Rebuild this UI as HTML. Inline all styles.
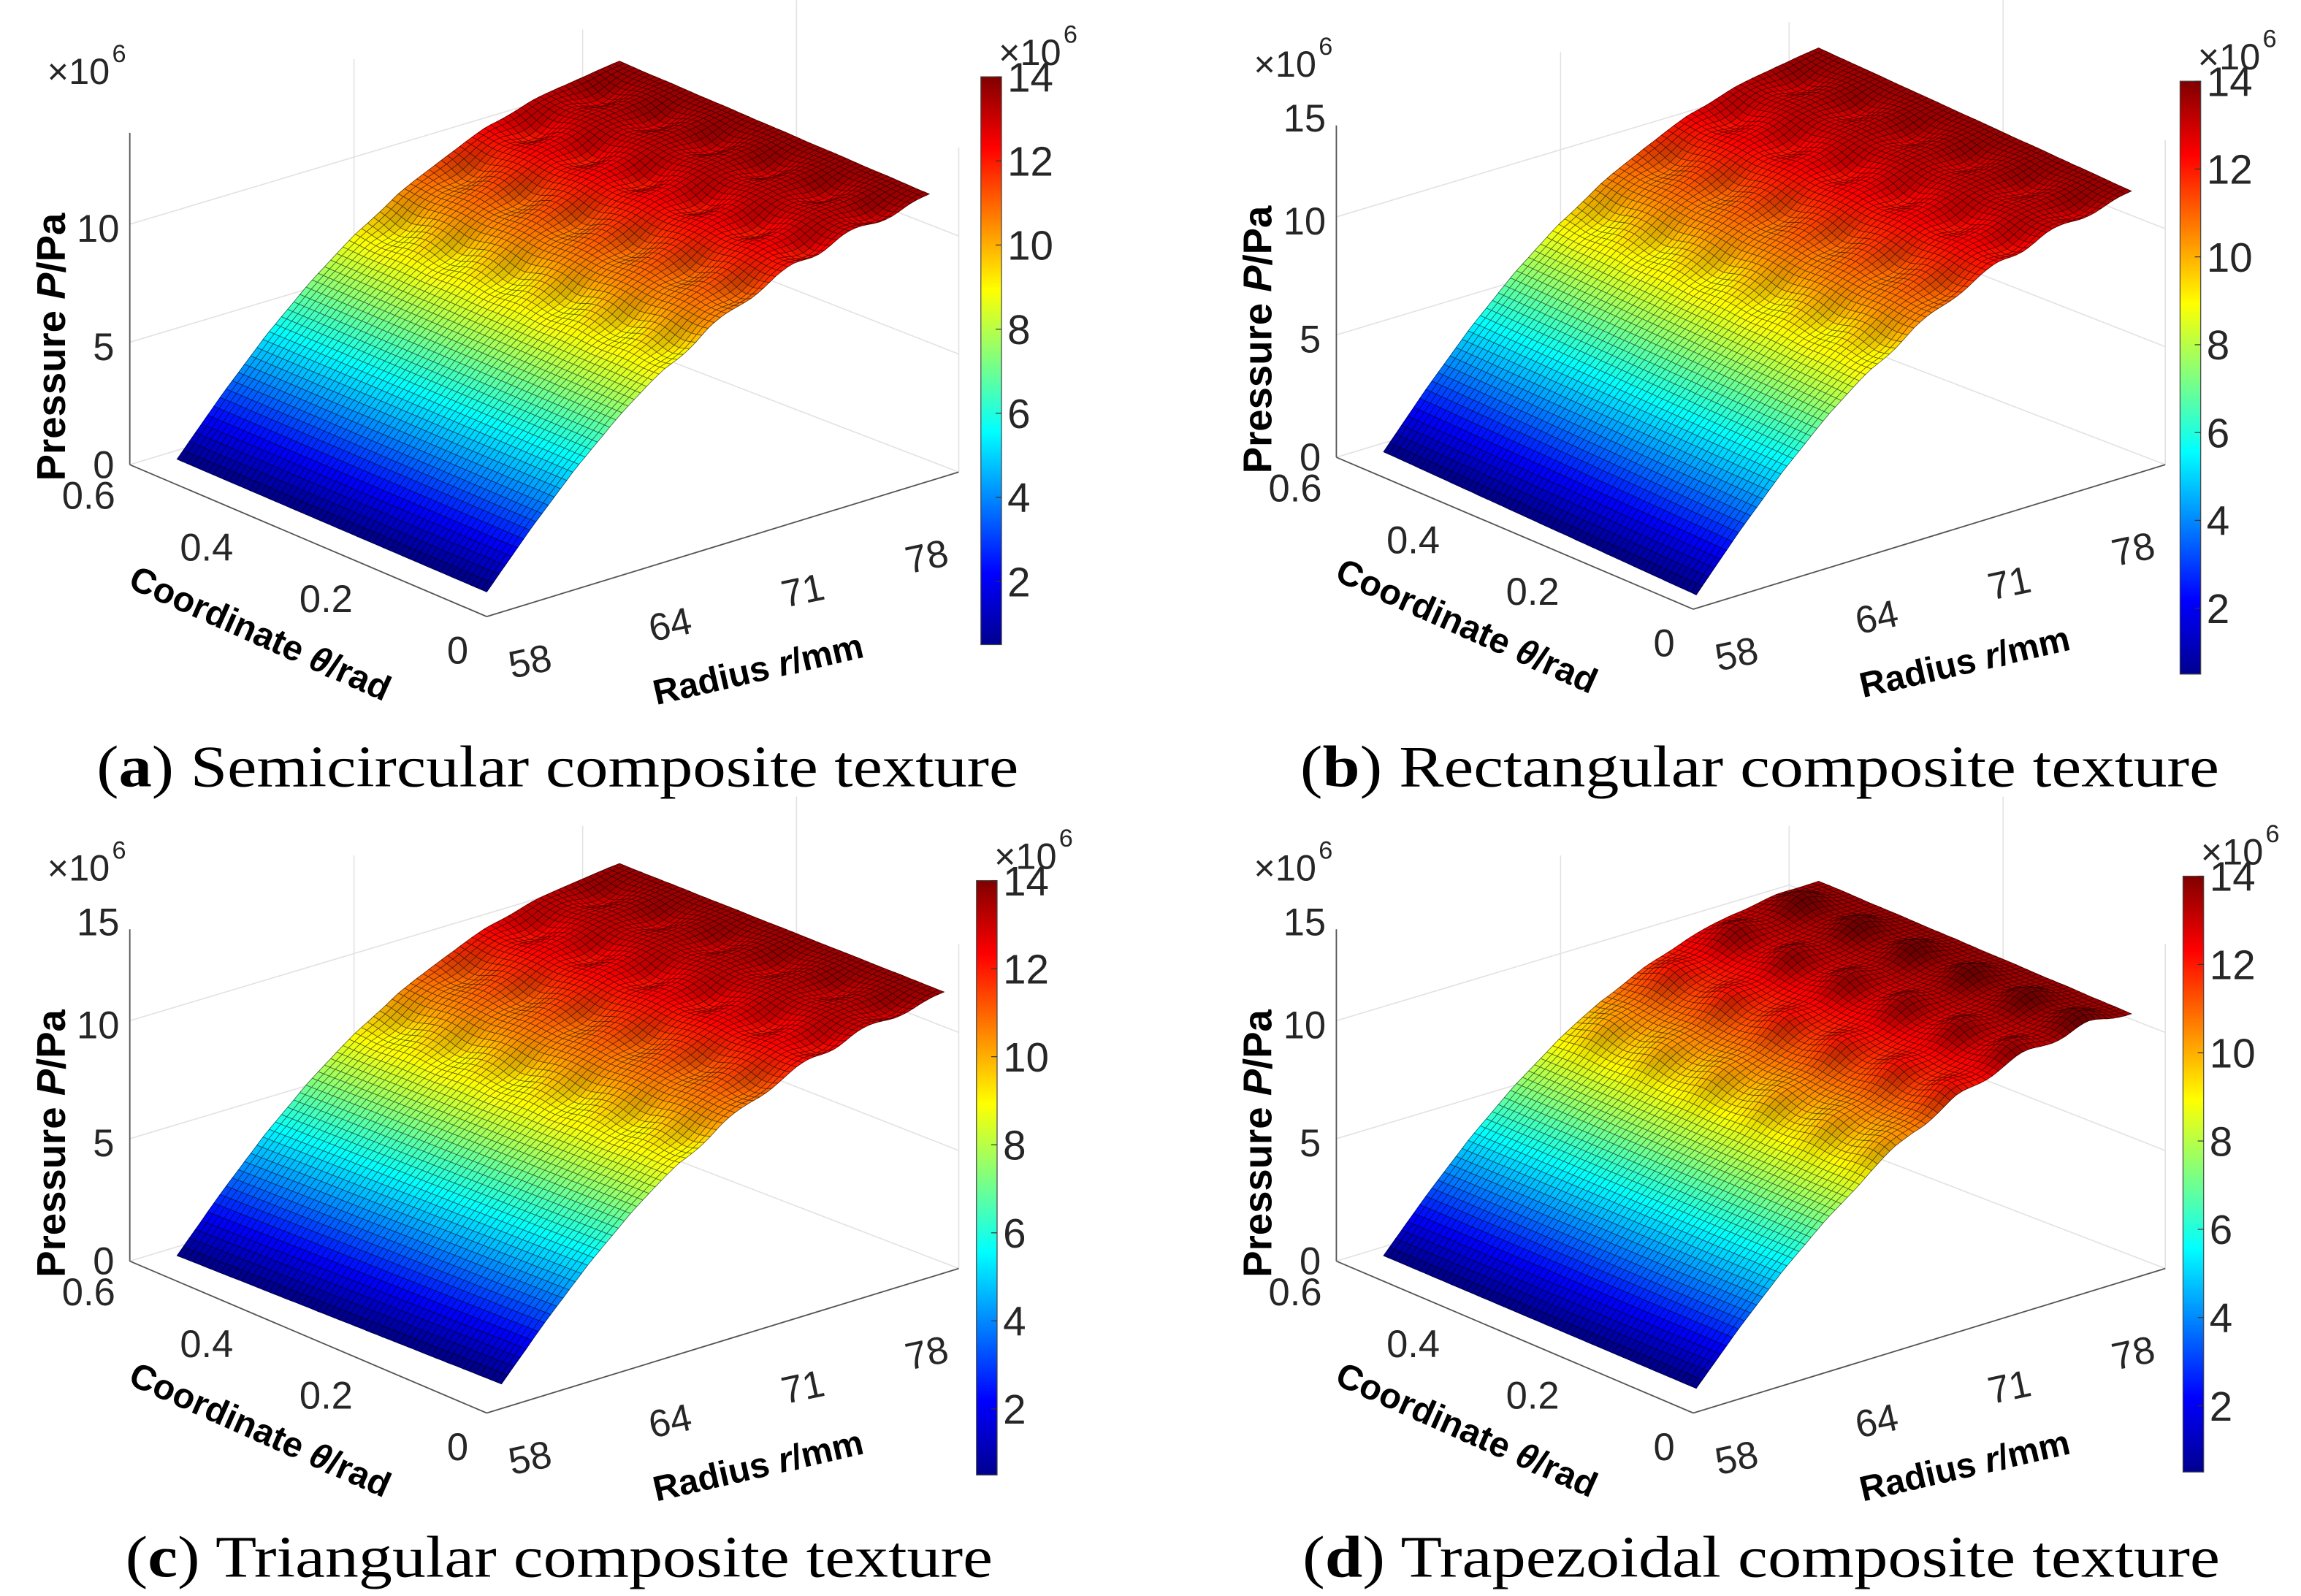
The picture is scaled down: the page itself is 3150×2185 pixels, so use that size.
<!DOCTYPE html>
<html><head><meta charset="utf-8"><style>
html,body{margin:0;padding:0;background:#fff;}
svg{display:block;}
text{font-family:"Liberation Sans",sans-serif;}
</style></head><body>
<svg id="fig" width="3150" height="2185" viewBox="0 0 1560 1082" xmlns="http://www.w3.org/2000/svg">
<defs>
<linearGradient id="jet" x1="0" y1="1" x2="0" y2="0">
<stop offset="0" stop-color="#00008f"/><stop offset="0.125" stop-color="#0000ff"/><stop offset="0.375" stop-color="#00ffff"/><stop offset="0.625" stop-color="#ffff00"/><stop offset="0.875" stop-color="#ff0000"/><stop offset="1" stop-color="#800000"/>
</linearGradient>
</defs>
</svg>
<script>
const NS='http://www.w3.org/2000/svg';
const svg=document.getElementById('fig');
const thetaTicks=['0.6','0.4','0.2','0'];
const radiusTicks=['58','64','71','78'];
const pressureTicks=['0','5','10','15'];
const colorbarTicks=[2,4,6,8,10,12,14];
const profile=[0.5,3.0,5.3,7.3,9.0,10.4,11.5,12.4,13.0,13.4,13.6];
const bumpAmp=[-0.7,-0.6,-0.6,0.7];
const bumpCols=[0.08,0.26,0.44,0.62,0.80,0.96];
const bumpRows=[0.45,0.6,0.75,0.9];
const captions=[['a','Semicircular composite texture'],['b','Rectangular composite texture'],['c','Triangular composite texture'],['d','Trapezoidal composite texture']];
const capW=[625,623,588,622];
const cmin=0.5,cmax=14;
const panels=[
 {O:[120,318],U:[210,90],V:[300,-93],dx:0,dy:0,cb:[665,52,437],cap:378,showTop:false},
 {O:[938,313],U:[212,97],V:[295,-97],dx:818,dy:-5,cb:[1478,55,457],cap:1193,showTop:true},
 {O:[120,858],U:[220,87],V:[300,-89],dx:0,dy:540,cb:[662,597,1000],cap:379,showTop:true},
 {O:[938,858],U:[212,90],V:[295,-77],dx:818,dy:540,cb:[1480,594,998],cap:1194,showTop:true}
];
const WZ=13.5;
function jet(t){t=Math.max(0,Math.min(1,t));
 const f=x=>Math.max(0,Math.min(1,x));
 return [f(1.5-Math.abs(4*t-3)),f(1.5-Math.abs(4*t-2)),f(1.5-Math.abs(4*t-1))];}
function interp(arr,v){const p=v*(arr.length-1);const i=Math.min(arr.length-2,Math.floor(p));const f=p-i;return arr[i]*(1-f)+arr[i+1]*f;}
function mk(tag,attrs,parent){const e=document.createElementNS(NS,tag);for(const k in attrs)e.setAttribute(k,attrs[k]);(parent||svg).appendChild(e);return e;}
function txt(s,x,y,size,parent,extra){const e=mk('text',Object.assign({x:x,y:y,'font-size':size,fill:'#262626'},extra||{}),parent);e.textContent=s;return e;}
panels.forEach((P,pi)=>{
 const g=mk('g',{});
 
 
 const dx=P.dx,dy=P.dy;
 const grid=mk('g',{stroke:'#e2e2e2','stroke-width':0.8,fill:'none'},g);
 
 
 [[88,90,88,315],[88,315,395,222],[395,222,395,20],[395,222,650,320],[88,152,395,60],[88,232,395,140],[650,320,650,100],[395,140,650,240],[395,60,650,160],[240,265,240,40],[540,175,540,0]].forEach(l=>{
  mk('line',{x1:l[0]+dx,y1:l[1]+dy,x2:l[2]+dx,y2:l[3]+dy},grid);});
 const ax=mk('g',{stroke:'#555','stroke-width':0.9,fill:'none'},g);
 
 
 mk('line',{x1:88+dx,y1:315+dy,x2:330+dx,y2:418+dy},ax);
 mk('line',{x1:330+dx,y1:418+dy,x2:650+dx,y2:320+dy},ax);
 mk('line',{x1:88+dx,y1:315+dy,x2:88+dx,y2:90+dy},ax);
 const N=60,M=72;
 const pts=[],val=[];
 for(let i=0;i<=N;i++){pts.push([]);val.push([]);
  for(let j=0;j<=M;j++){const u=i/N,v=j/M;
   let p=interp(profile,v);
   let t=0;
   bumpCols.forEach(c=>bumpRows.forEach(r=>{const du=(u-c)/0.055,dv=(v-r)/0.05;t+=Math.exp(-(du*du+dv*dv));}));
   p+=bumpAmp[pi]*t*Math.min(1,v*1.4);
   val[i].push(p);
   pts[i].push([P.O[0]+u*P.U[0]+v*P.V[0],P.O[1]+u*P.U[1]+v*P.V[1]-p*WZ]);
  }}
 const cells=[];
 for(let i=0;i<N;i++)for(let j=0;j<M;j++)cells.push([i,j]);
 cells.sort((a,b)=>(a[0]/N-a[1]/M)-(b[0]/N-b[1]/M));
 const sg=mk('g',{'stroke-width':0.4},g);
 
 
 cells.forEach(([i,j])=>{
  const a=pts[i][j],b=pts[i+1][j],c=pts[i+1][j+1],d=pts[i][j+1];
  const pv=(val[i][j]+val[i+1][j]+val[i+1][j+1]+val[i][j+1])/4;
  const dPdu=((val[i+1][j]+val[i+1][j+1])-(val[i][j]+val[i][j+1]))/2*N;
  const dPdv=((val[i][j+1]+val[i+1][j+1])-(val[i][j]+val[i+1][j]))/2*M;
  const slope=(interp(profile,Math.min(1,(j+1)/M))-interp(profile,j/M))*M;
  let sh=1+0.02*(dPdu)-0.012*(dPdv-slope);
  sh=Math.max(0.5,Math.min(1.1,sh));
  const col=jet((pv-cmin)/(cmax-cmin)).map(x=>Math.round(Math.min(255,x*255*sh)));
  const fill='rgb('+col.join(',')+')';
  const ed='rgb('+col.map(x=>Math.round(x*0.4)).join(',')+')';
  mk('polygon',{points:[a,b,c,d].map(q=>q[0].toFixed(1)+','+q[1].toFixed(1)).join(' '),fill:fill,stroke:ed},sg);
 });
 const tg=mk('g',{},g);
 
 
 const thPos=[[42,345],[122,380],[203,415],[303,450]];
 thetaTicks.forEach((s,k)=>txt(s,thPos[k][0]+dx,thPos[k][1]+dy,26,tg));
 const rPos=[[347,460],[442,435],[532,412],[616,389]];
 radiusTicks.forEach((s,k)=>txt(s,rPos[k][0]+dx,rPos[k][1]+dy,26,tg,{transform:'rotate(-12 '+(rPos[k][0]+dx)+' '+(rPos[k][1]+dy)+')'}));
 const zPos=[[63,324],[63,244],[52,164],[52,94]];
 pressureTicks.forEach((s,k)=>{if(k===3&&!P.showTop)return;txt(s,zPos[k][0]+dx,zPos[k][1]+dy,26,tg);});
 txt('×10',32+dx,57+dy,25,tg);txt('6',76+dx,42+dy,17,tg);
 const t1=txt('Pressure ',0,0,27,g,{'font-weight':'bold',fill:'#000',transform:'translate('+(44+dx)+','+(326+dy)+') rotate(-90)'});
 const it=mk('tspan',{'font-style':'italic'},t1);it.textContent='P';
 const t1b=mk('tspan',{},t1);t1b.textContent='/Pa';
 
 const t2=txt('Coordinate ',0,0,24,g,{'font-weight':'bold',fill:'#000',transform:'translate('+(86+dx)+','+(398+dy)+') rotate(24)'});
 const i2=mk('tspan',{'font-style':'italic'},t2);i2.textContent='θ';
 const t2b=mk('tspan',{},t2);t2b.textContent='/rad';
 
 const t3=txt('Radius ',0,0,24,g,{'font-weight':'bold',fill:'#000',transform:'translate('+(445+dx)+','+(478+dy)+') rotate(-13)'});
 const i3=mk('tspan',{'font-style':'italic'},t3);i3.textContent='r';
 const t3b=mk('tspan',{},t3);t3b.textContent='/mm';
 
 const [cx,cy0,cy1]=P.cb;
 const cbg=mk('g',{},g);
 
 
 mk('rect',{x:cx,y:cy0,width:14,height:cy1-cy0,fill:'url(#jet)',stroke:'#444','stroke-width':0.6},cbg);
 colorbarTicks.forEach(v=>{const y=cy1-(v-cmin)/(cmax-cmin)*(cy1-cy0);
  mk('line',{x1:cx+10,y1:y,x2:cx+14,y2:y,stroke:'#333','stroke-width':0.6},cbg);
  txt(String(v),cx+18,y+10,28,cbg);});
 txt('×10',cx+12,cy0-8,25,cbg);txt('6',cx+56,cy0-23,17,cbg);
 const cap=mk('text',{x:P.cap,y:533+(pi>=2?536:0),'font-size':40,'text-anchor':'middle',textLength:capW[pi],lengthAdjust:'spacingAndGlyphs',fill:'#000',style:'font-family:"Liberation Serif",serif'});
 
 
 const c1=mk('tspan',{},cap);c1.textContent='(';
 const c2=mk('tspan',{'font-weight':'bold'},cap);c2.textContent=captions[pi][0];
 const c3=mk('tspan',{},cap);c3.textContent=') '+captions[pi][1];
});
</script>
</body></html>
